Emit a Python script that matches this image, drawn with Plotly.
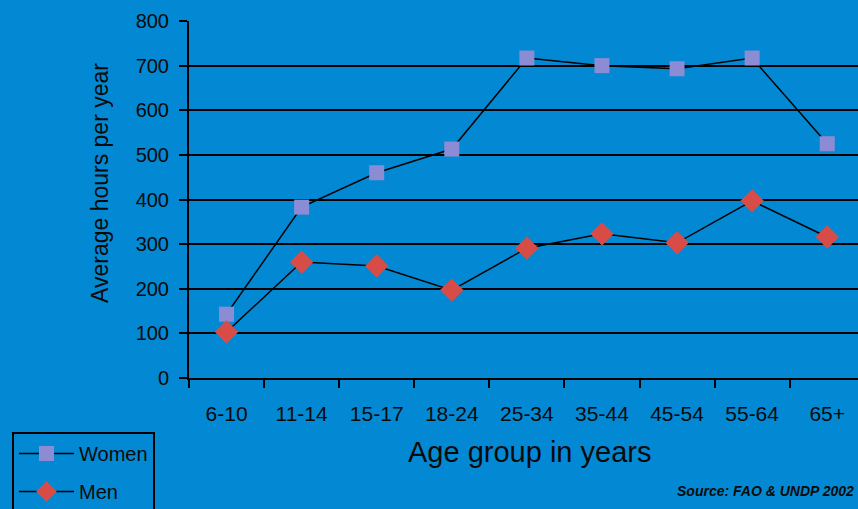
import plotly.graph_objects as go

categories = ["6-10", "11-14", "15-17", "18-24", "25-34", "35-44", "45-54", "55-64", "65+"]
women = [143, 383, 460, 513, 717, 700, 693, 717, 525]
men = [103, 260, 251, 197, 291, 323, 303, 397, 316]
y_ticks = [0, 100, 200, 300, 400, 500, 600, 700, 800]

BG = "rgb(3,137,211)"
W, H = 858, 509
L, R, T, B = 189, 0, 21, 131
pw, ph = W - L - R, H - T - B

def px_x(px):
    return (px - L) / pw

def px_y(py):
    return (H - B - py) / ph

fig = go.Figure()
fig.add_trace(go.Scatter(
    x=categories, y=women, name="Women", mode="lines+markers",
    line=dict(color="black", width=1.5),
    marker=dict(symbol="square", size=15, color="rgb(140,140,212)"),
    legendgroup="w",
))
fig.add_trace(go.Scatter(
    x=categories, y=men, name="Men", mode="lines+markers",
    line=dict(color="black", width=1.5),
    marker=dict(symbol="diamond", size=18, color="rgb(216,76,72)"),
    legendgroup="m",
))

font = "Liberation Sans, Arial, sans-serif"
TXT = "#0a0a0a"

fig.update_layout(
    width=W, height=H,
    margin=dict(l=L, r=R, t=T, b=B, autoexpand=False),
    paper_bgcolor=BG, plot_bgcolor=BG,
    font=dict(family=font, color=TXT),
    showlegend=True,
    legend=dict(
        x=px_x(12), y=px_y(432), xanchor="left", yanchor="top",
        bgcolor=BG, bordercolor="black", borderwidth=2,
        font=dict(size=20, color=TXT),
        traceorder="grouped", tracegroupgap=9, itemwidth=55,
    ),
    xaxis=dict(
        type="category", range=[-0.5, 8.41],
        showline=True, linecolor="black", linewidth=2,
        ticks="outside", tickson="boundaries", ticklen=8, tickwidth=2, tickcolor="black",
        showgrid=False, tickfont=dict(size=21, color=TXT),
        ticklabelstandoff=16, zeroline=False, fixedrange=True,
    ),
    yaxis=dict(
        range=[0, 800], tickvals=y_ticks,
        showline=True, linecolor="black", linewidth=2,
        ticks="outside", ticklen=8, tickwidth=2, tickcolor="black",
        showgrid=True, gridcolor="black", gridwidth=2,
        zeroline=False, tickfont=dict(size=20, color=TXT),
        ticklabelstandoff=6, fixedrange=True,
    ),
    annotations=[
        dict(text="Age group in years", x=px_x(529), y=px_y(452), xref="paper", yref="paper",
             showarrow=False, font=dict(size=29, color=TXT), xanchor="center", yanchor="middle"),
        dict(text="Average hours per year", x=px_x(100), y=px_y(183), xref="paper", yref="paper",
             showarrow=False, textangle=-90, font=dict(size=23, color=TXT),
             xanchor="center", yanchor="middle"),
        dict(text="<b><i>Source: FAO &amp; UNDP 2002</i></b>", x=px_x(675), y=px_y(491), xref="paper", yref="paper",
             showarrow=False, font=dict(size=14, color=TXT), xanchor="left", yanchor="middle"),
    ],
)

fig.write_html(
    "out.html",
    config={"displayModeBar": False},
    post_script="document.body.style.margin='0';document.body.style.overflow='hidden';",
)
